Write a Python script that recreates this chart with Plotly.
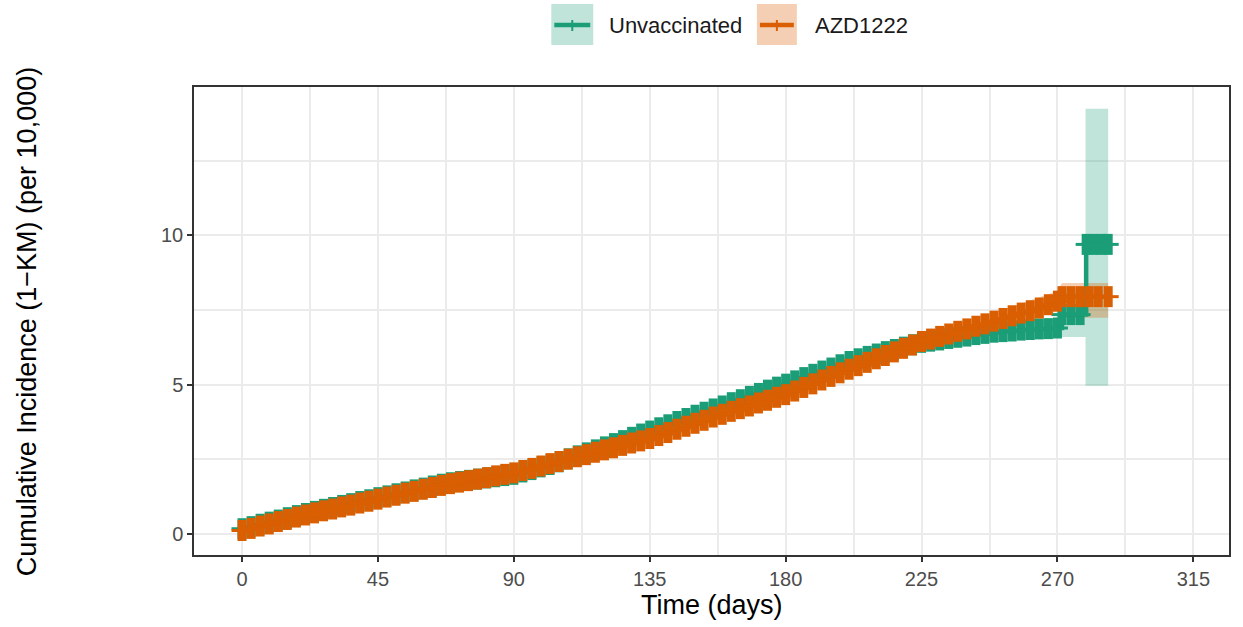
import plotly.graph_objects as go

# ---------------- data ----------------
days = [0, 3, 6, 9, 12, 15, 18, 21, 24, 27, 30, 33, 36, 39, 42, 45, 48, 51, 54, 57,
        60, 63, 66, 69, 72, 75, 78, 81, 84, 87, 90, 93, 96, 99, 102, 105, 108, 111, 114, 117,
        120, 123, 126, 129, 132, 135, 138, 141, 144, 147, 150, 153, 156, 159, 162, 165, 168, 171, 174, 177,
        180, 183, 186, 189, 192, 195, 198, 201, 204, 207, 210, 213, 216, 219, 222, 225, 228, 231, 234, 237,
        240, 243, 246, 249, 252, 255, 258, 261, 264, 267, 270]

azd_ci = [0.12, 0.19, 0.27, 0.34, 0.42, 0.49, 0.57, 0.64, 0.71, 0.78, 0.84, 0.91, 0.97, 1.04, 1.10, 1.17, 1.24, 1.30, 1.37, 1.43,
          1.50, 1.56, 1.63, 1.69, 1.74, 1.79, 1.84, 1.89, 1.95, 2.00, 2.05, 2.13, 2.20, 2.28, 2.36, 2.43, 2.51, 2.59, 2.66, 2.74,
          2.82, 2.89, 2.97, 3.05, 3.12, 3.20, 3.30, 3.40, 3.51, 3.61, 3.71, 3.81, 3.92, 4.01, 4.11, 4.20, 4.29, 4.39, 4.48, 4.58,
          4.67, 4.79, 4.91, 5.03, 5.16, 5.28, 5.40, 5.52, 5.64, 5.75, 5.87, 5.98, 6.10, 6.22, 6.33, 6.45, 6.53, 6.62, 6.70, 6.79,
          6.87, 6.96, 7.04, 7.13, 7.22, 7.31, 7.40, 7.48, 7.57, 7.68, 7.80]
azd_tail_days = [271.5, 274.5, 277.5, 280.5, 283.5, 286.8]
azd_tail_vals = [7.95, 7.95, 7.95, 7.95, 7.95, 7.95]

unv_ci = [0.18, 0.25, 0.33, 0.40, 0.47, 0.55, 0.62, 0.69, 0.76, 0.83, 0.89, 0.96, 1.02, 1.09, 1.15, 1.22, 1.28, 1.35, 1.41, 1.48,
          1.54, 1.61, 1.67, 1.72, 1.76, 1.80, 1.84, 1.88, 1.92, 1.96, 2.00, 2.08, 2.16, 2.25, 2.33, 2.42, 2.52, 2.62, 2.72, 2.82,
          2.92, 3.03, 3.13, 3.24, 3.35, 3.45, 3.56, 3.66, 3.77, 3.87, 3.98, 4.08, 4.19, 4.29, 4.40, 4.50, 4.61, 4.71, 4.82, 4.92,
          5.02, 5.13, 5.24, 5.35, 5.46, 5.56, 5.67, 5.78, 5.87, 5.95, 6.03, 6.11, 6.18, 6.26, 6.34, 6.42, 6.46, 6.50, 6.55, 6.59,
          6.63, 6.68, 6.72, 6.76, 6.78, 6.80, 6.83, 6.85, 6.87, 6.88, 6.90]
unv_tail_days = [271.5, 274.5, 277.5, 279.5, 282.0, 284.5, 286.8]
unv_tail_vals = [7.35, 7.35, 7.35, 9.70, 9.70, 9.70, 9.70]

# confidence bands
azd_band_days = [0, 15, 30, 45, 60, 75, 90, 105, 120, 135, 150, 165, 180, 195, 210, 225, 240, 255, 270, 271.5, 286.8]
azd_lower = [0.08, 0.43, 0.76, 1.07, 1.39, 1.67, 1.92, 2.29, 2.67, 3.03, 3.53, 4.01, 4.46, 5.05, 5.62, 6.18, 6.58, 7.00, 7.46, 7.24, 7.24]
azd_upper = [0.16, 0.55, 0.92, 1.27, 1.61, 1.91, 2.18, 2.57, 2.97, 3.37, 3.89, 4.39, 4.88, 5.51, 6.12, 6.72, 7.16, 7.62, 8.14, 8.41, 8.41]

unv_band_days = [0, 15, 30, 45, 60, 75, 90, 105, 120, 135, 150, 165, 180, 195, 210, 225, 240, 255, 270, 271.3, 279.3, 279.3, 286.8]
unv_lower = [0.13, 0.48, 0.80, 1.11, 1.42, 1.67, 1.86, 2.27, 2.76, 3.27, 3.79, 4.30, 4.80, 5.32, 5.78, 6.15, 6.35, 6.50, 6.58, 6.60, 6.60, 4.97, 4.97]
unv_upper = [0.23, 0.62, 0.98, 1.33, 1.66, 1.93, 2.14, 2.57, 3.08, 3.63, 4.17, 4.70, 5.24, 5.80, 6.28, 6.69, 6.91, 7.10, 7.22, 8.10, 8.10, 14.24, 14.24]

series_names = ["Unvaccinated", "AZD1222"]
x_ticks = [0, 45, 90, 135, 180, 225, 270, 315]
y_ticks = [0, 5, 10]

GREEN = "#1B9E77"
ORANGE = "#D95F02"
GREEN_F = "rgba(27,158,119,0.28)"
ORANGE_F = "rgba(217,95,2,0.30)"
FONT = "Arial, Liberation Sans, sans-serif"

fig = go.Figure()

# ribbons
for bd, lo, up, fc in [(unv_band_days, unv_lower, unv_upper, GREEN_F),
                       (azd_band_days, azd_lower, azd_upper, ORANGE_F)]:
    fig.add_trace(go.Scatter(x=bd, y=lo, mode="lines", line=dict(width=0, color=fc),
                             showlegend=False, hoverinfo="skip"))
    fig.add_trace(go.Scatter(x=bd, y=up, mode="lines", line=dict(width=0, color=fc),
                             fill="tonexty", fillcolor=fc, showlegend=False, hoverinfo="skip"))

# KM curves with censor marks ("+": thick vertical bar + thin horizontal arm)
for name, vals, td, tv, col in [("Unvaccinated", unv_ci, unv_tail_days, unv_tail_vals, GREEN),
                                ("AZD1222", azd_ci, azd_tail_days, azd_tail_vals, ORANGE)]:
    xs = days + td
    ys = vals + tv
    fig.add_trace(go.Scatter(
        x=xs, y=ys, name=name, mode="lines+markers",
        line=dict(shape="hv", width=4.5, color=col),
        marker=dict(symbol="line-ns", size=15, color=col, line=dict(width=9, color=col)),
        showlegend=False))
    fig.add_trace(go.Scatter(
        x=xs, y=ys, mode="markers", hoverinfo="skip",
        marker=dict(symbol="line-ew", size=15, color=col, line=dict(width=3, color=col)),
        showlegend=False))

# manual legend (ggplot style keys)
def px2x(px):
    return (px - 194) / 1037

def py2y(py):
    return (555 - py) / 468

shapes = []
annotations = []
for name, col, fc, bx0, bx1, tx in [("Unvaccinated", GREEN, GREEN_F, 552, 594, 608),
                                    ("AZD1222", ORANGE, ORANGE_F, 758, 798, 814)]:
    shapes.append(dict(type="rect", xref="paper", yref="paper",
                       x0=px2x(bx0), x1=px2x(bx1), y0=py2y(45), y1=py2y(4),
                       fillcolor=fc, line=dict(width=0), layer="above"))
    shapes.append(dict(type="line", xref="paper", yref="paper",
                       x0=px2x(bx0 + 3), x1=px2x(bx1 - 3), y0=py2y(25), y1=py2y(25),
                       line=dict(color=col, width=4.5)))
    cx = (bx0 + bx1) / 2
    shapes.append(dict(type="line", xref="paper", yref="paper",
                       x0=px2x(cx), x1=px2x(cx), y0=py2y(20), y1=py2y(31),
                       line=dict(color=col, width=2)))
    annotations.append(dict(text=name, xref="paper", yref="paper", x=px2x(tx), y=py2y(25),
                            xanchor="left", yanchor="middle", showarrow=False,
                            font=dict(family=FONT, size=22, color="#1a1a1a")))

annotations.append(dict(text="Time (days)", xref="paper", yref="paper", x=0.5, y=py2y(605),
                        xanchor="center", yanchor="middle", showarrow=False,
                        font=dict(family=FONT, size=27, color="black")))
annotations.append(dict(text="Cumulative Incidence (1\u2212KM) (per 10,000)", xref="paper", yref="paper",
                        x=px2x(27), y=0.5, xanchor="center", yanchor="middle", showarrow=False,
                        textangle=-90, font=dict(family=FONT, size=27, color="black")))

axis_common = dict(
    showline=True, linecolor="#333333", linewidth=1.5, mirror=True,
    ticks="outside", ticklen=5, tickwidth=1.5, tickcolor="#333333",
    tickfont=dict(family=FONT, size=20, color="#4D4D4D"),
    showgrid=True, gridcolor="#EBEBEB", gridwidth=2, zeroline=False,
)

fig.update_layout(
    width=1243, height=627,
    margin=dict(l=194, r=12, t=87, b=72),
    paper_bgcolor="white", plot_bgcolor="white",
    showlegend=False,
    shapes=shapes, annotations=annotations,
    xaxis=dict(range=[-15.9, 326.8], tickvals=x_ticks, ticktext=[str(v) for v in x_ticks],
               minor=dict(tickvals=[22.5, 67.5, 112.5, 157.5, 202.5, 247.5, 292.5],
                          showgrid=True, gridcolor="#EBEBEB", gridwidth=1.5, ticks=""),
               **axis_common),
    yaxis=dict(range=[-0.70, 14.97], tickvals=y_ticks, ticktext=[str(v) for v in y_ticks],
               minor=dict(tickvals=[2.5, 7.5, 12.5], showgrid=True, gridcolor="#EBEBEB",
                          gridwidth=1.5, ticks=""),
               **axis_common),
)

fig.write_html("out.html")
